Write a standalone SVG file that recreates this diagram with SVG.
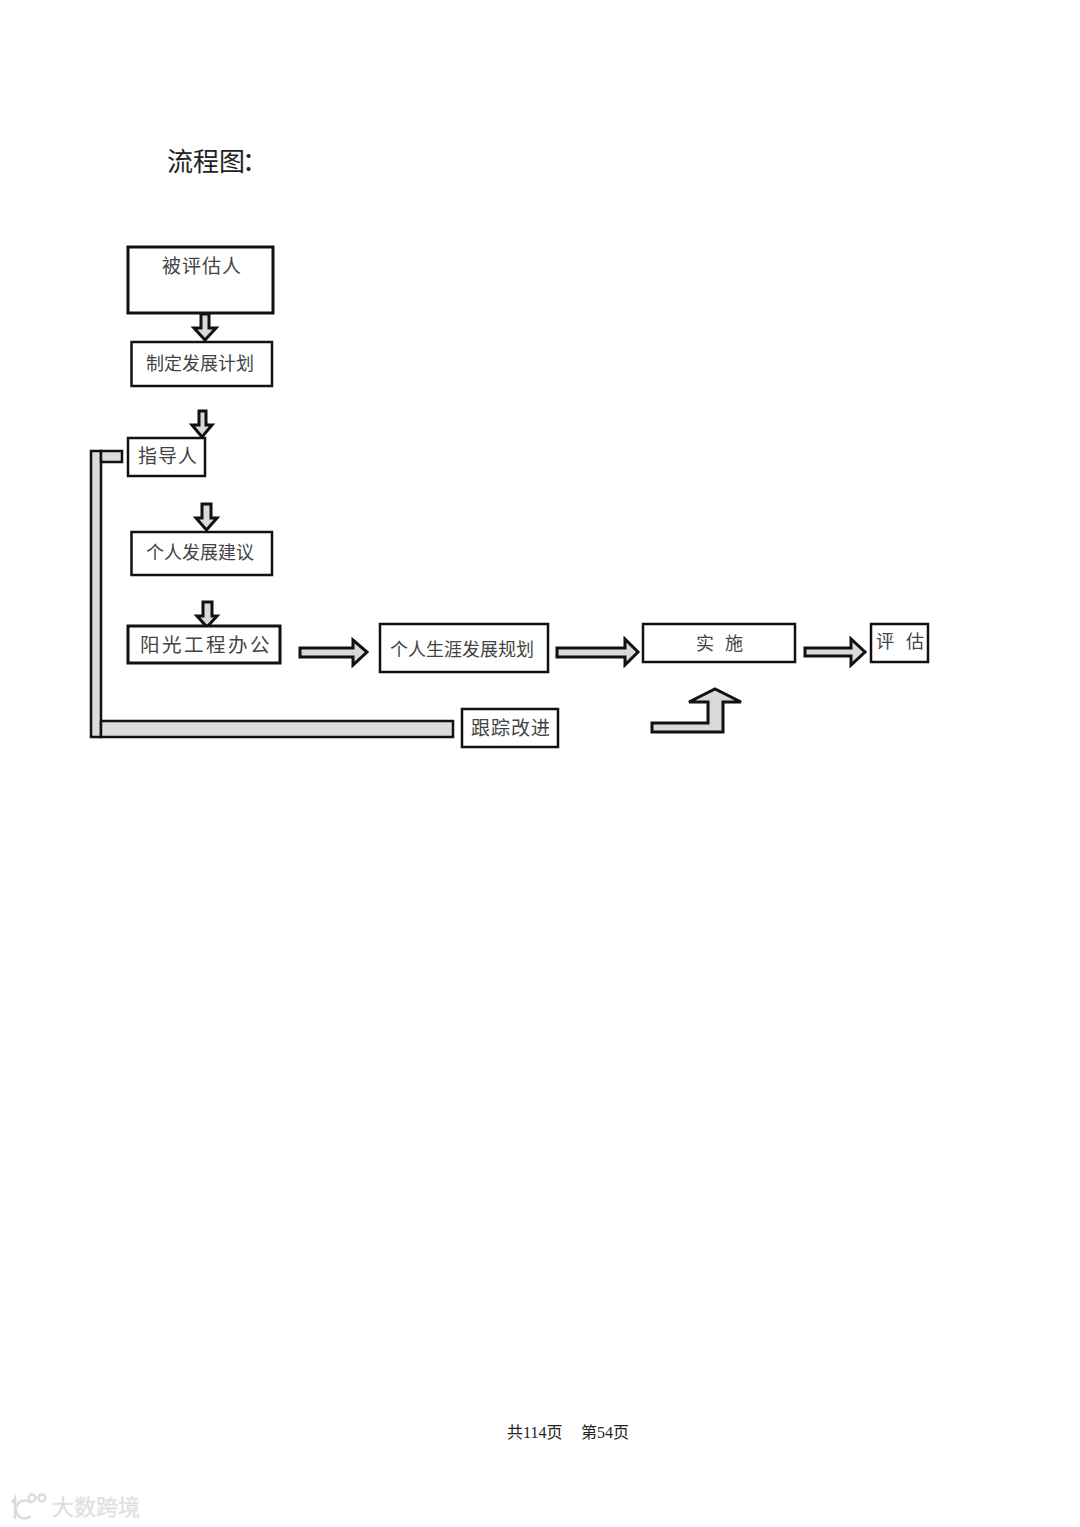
<svg xmlns="http://www.w3.org/2000/svg" width="1080" height="1527" viewBox="0 0 1080 1527">
<style>
.box{fill:#fff;stroke:#111;stroke-width:2.500}
.thick{stroke-width:3}
.arr{fill:#d9d9d9;stroke:#111;stroke-width:3;stroke-linejoin:miter}
.bar{fill:#dcdcdc;stroke:#111;stroke-width:2.500}
text{font-family:"Noto Sans CJK SC","Liberation Serif",sans-serif;fill:#444}
.l{font-size:18px}
.foot{font-family:"Liberation Serif","Noto Sans CJK SC",serif;font-size:16px;fill:#222}
.wm{font-size:22px;fill:#dcdcdc;stroke:#e8e8e8;stroke-width:.5}
</style>
<rect width="1080" height="1527" fill="#fff"/>
<text x="167" y="171" font-size="26" style="fill:#222">流程图<tspan dx="-3">：</tspan></text>
<g id="connectors">
<path class="arr" d="M201 314V328H194L205 340L216 328H209V314Z"/>
<path class="arr" d="M199 411V425H192L202 437L212 425H206V411Z"/>
<path class="arr" d="M202 504V518H196L206.500 530L217 518H211V504Z"/>
<path class="arr" d="M203 602V616H197L207 627L217 616H212V602Z"/>
<path class="arr" d="M300 648H353V640L367 652L353 665V657H300Z"/>
<path class="arr" d="M557 648H625V639L638 652L625 665V657H557Z"/>
<path class="arr" d="M805 648H851V639L865 652L851 665V656H805Z"/>
<path class="arr" d="M652 723H708V702H689L715 689L741 702H723V732H652Z"/>
<rect class="bar" x="91" y="451" width="10" height="286"/>
<rect class="bar" x="101" y="451" width="21" height="11"/>
<rect class="bar" x="101" y="721" width="352" height="16"/>
</g>
<g id="n1"><rect class="box thick" x="128" y="247" width="145" height="66"/><text class="l" x="162" y="273" style="font-size:19px;letter-spacing:1px">被评估人</text></g>
<g id="n2"><rect class="box" x="131.500" y="342" width="140.500" height="44"/><text class="l" x="146" y="370">制定发展计划</text></g>
<g id="n3"><rect class="box" x="128" y="438" width="77" height="38"/><text class="l" x="138" y="463" style="font-size:19px;letter-spacing:1px">指导人</text></g>
<g id="n4"><rect class="box" x="131.500" y="532" width="140.500" height="43"/><text class="l" x="146" y="559">个人发展建议</text></g>
<g id="n5"><rect class="box thick" x="128" y="626" width="152" height="37"/><text class="l" x="140" y="652" style="font-size:19.500px;letter-spacing:2.500px">阳光工程办公</text></g>
<g id="n6"><rect class="box" x="380" y="624" width="168" height="48"/><text class="l" x="390" y="656">个人生涯发展规划</text></g>
<g id="n7"><rect class="box" x="462" y="709" width="96" height="38"/><text class="l" x="471" y="735" style="font-size:19px;letter-spacing:1px">跟踪改进</text></g>
<g id="n8"><rect class="box" x="643" y="624" width="152" height="38"/><text class="l" x="696" y="650" style="letter-spacing:11px">实施</text></g>
<g id="n9"><rect class="box" x="871" y="624" width="57" height="38"/><text class="l" x="876" y="648" style="letter-spacing:12px">评估</text></g>
<text class="foot" y="1438"><tspan x="507">共114页</tspan><tspan x="581">第54页</tspan></text>
<g fill="none" stroke="#dcdcdc" stroke-width="2.500">
<path d="M12 1503L15 1498V1519"/>
<path d="M31 1503A9 9 0 1 0 31 1516"/>
<circle cx="32" cy="1498" r="3.500"/>
<circle cx="42" cy="1498" r="3.500"/>
</g>
<text class="wm" x="52" y="1515">大数跨境</text>
</svg>
